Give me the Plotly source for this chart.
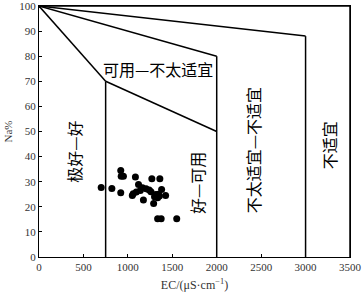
import plotly.graph_objects as go

# Sample data (EC in µS/cm, Na%)
ec = [700, 820, 920, 925, 950, 920, 1085, 1270, 1360, 1380, 1425, 1050, 1060, 1095,
      1120, 1165, 1205, 1175, 1240, 1290, 1315, 1335, 1355, 1300, 1335, 1375, 1550,
      1140, 1260, 1345]
na = [27.7, 27.3, 34.5, 32.2, 32.2, 25.6, 31.9, 31.2, 31.2, 26.9, 24.5, 24.5, 25.2, 25.9,
      28.9, 27.6, 27.2, 22.7, 26.7, 21.3, 24.9, 23.6, 24.3, 24.0, 15.2, 15.2, 15.2,
      26.5, 26.0, 25.0]

# Wilcox classification boundaries (x0, x1, y0, y1)
b1_seg = [(0, 750, 100, 70), (750, 750, 70, 0), (750, 2000, 70, 50)]
b2_seg = [(0, 2000, 100, 80), (2000, 2000, 80, 0)]
b3_seg = [(0, 3000, 100, 88), (3000, 3000, 88, 0)]
b4_seg = [(0, 3500, 100, 100), (3500, 3500, 100, 0)]

zone_labels = ["极好—好", "好—可用", "可用—不太适宜", "不太适宜—不适宜", "不适宜"]
zone_x = [394, 1777, 1335, 2407, 3262]
zone_y = [41.9, 29.4, 75, 42.5, 44.5]
zone_angle = [-90, -90, 0, -90, -90]

x_ticks = [0, 500, 1000, 1500, 2000, 2500, 3000, 3500]
y_ticks = [0, 10, 20, 30, 40, 50, 60, 70, 80, 90, 100]

fig = go.Figure()

for segs in (b1_seg, b2_seg, b3_seg, b4_seg):
    for (x0, x1, y0, y1) in segs:
        fig.add_trace(go.Scatter(x=[x0, x1], y=[y0, y1], mode="lines",
                                 line=dict(color="black", width=1.5),
                                 showlegend=False, hoverinfo="skip"))

fig.add_trace(go.Scatter(x=ec, y=na, mode="markers",
                         marker=dict(color="black", size=7),
                         showlegend=False))

for t, x, y, a in zip(zone_labels, zone_x, zone_y, zone_angle):
    fig.add_annotation(x=x, y=y, xref="x", yref="y", text=t, showarrow=False,
                       textangle=a,
                       font=dict(family="Noto Sans CJK SC", size=16, color="black"))

axis_common = dict(showline=True, linecolor="black", linewidth=1.2, mirror=True,
                   ticks="inside", ticklen=3, tickcolor="black", showgrid=False,
                   zeroline=False, automargin=False, ticklabeloverflow="allow",
                   tickfont=dict(family="Liberation Serif", size=11, color="#333"))

fig.update_xaxes(range=[0, 3500], tickvals=x_ticks,
                 title=dict(text="EC/(μS·cm<sup>−1</sup>)", standoff=8,
                            font=dict(family="Liberation Serif", size=12, color="#333")),
                 **axis_common)
fig.update_yaxes(range=[0, 100], tickvals=y_ticks,
                 title=dict(text="Na%", standoff=4,
                            font=dict(family="Liberation Serif", size=11, color="#333")),
                 **axis_common)

fig.update_layout(width=363, height=297, margin=dict(l=39, r=13, t=6, b=40),
                  plot_bgcolor="white", paper_bgcolor="white")

fig.write_html("out.html", config={"displayModeBar": False},
               post_script="document.body.style.margin='0';document.body.style.overflow='hidden';")
